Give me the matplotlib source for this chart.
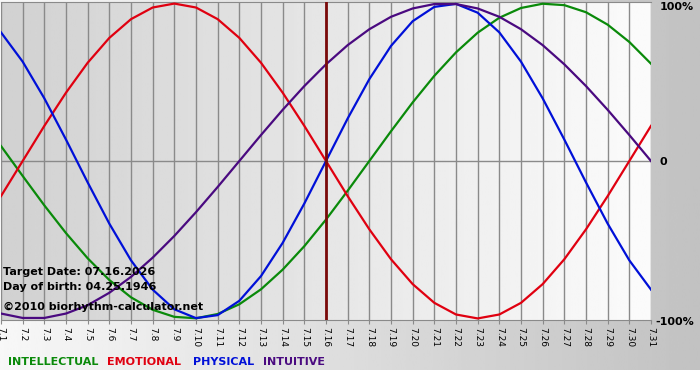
import numpy as np
import matplotlib.pyplot as plt
from matplotlib.patches import Rectangle

# days of July 2026 shown on the chart
days = list(range(1, 32))
tick_labels = [f'7.{d}' for d in days]

# biorhythm values (-1 .. 1) read per day
intellectual = [0.095, -0.095, -0.282, -0.458, -0.618, -0.756, -0.866, -0.945, -0.990, -0.999,
                -0.972, -0.910, -0.815, -0.690, -0.541, -0.372, -0.189, 0.000, 0.189, 0.372,
                0.541, 0.690, 0.815, 0.910, 0.972, 0.999, 0.990, 0.945, 0.866, 0.756, 0.618]
emotional = [-0.223, 0.000, 0.223, 0.434, 0.624, 0.782, 0.901, 0.975, 1.000, 0.975,
             0.901, 0.782, 0.624, 0.434, 0.223, 0.000, -0.223, -0.434, -0.624, -0.782,
             -0.901, -0.975, -1.000, -0.975, -0.901, -0.782, -0.624, -0.434, -0.223, 0.000, 0.223]
physical = [0.817, 0.631, 0.398, 0.136, -0.136, -0.398, -0.631, -0.817, -0.942, -0.998,
            -0.979, -0.888, -0.731, -0.520, -0.270, 0.000, 0.270, 0.520, 0.731, 0.888,
            0.979, 0.998, 0.942, 0.817, 0.631, 0.398, 0.136, -0.136, -0.398, -0.631, -0.817]
intuitive = [-0.969, -0.997, -0.997, -0.969, -0.916, -0.837, -0.736, -0.614, -0.476, -0.325,
             -0.165, 0.000, 0.165, 0.325, 0.476, 0.614, 0.736, 0.837, 0.916, 0.969,
             0.997, 0.997, 0.969, 0.916, 0.837, 0.736, 0.614, 0.476, 0.325, 0.165, 0.000]

series = [
    ('INTELLECTUAL', intellectual, '#0a8a0a'),
    ('EMOTIONAL', emotional, '#e00010'),
    ('PHYSICAL', physical, '#0010d8'),
    ('INTUITIVE', intuitive, '#4a0a80'),
]
target_day = 16

fig = plt.figure(figsize=(7, 3.8), dpi=100)

# figure background: light on the left, grey on the right
bg = fig.add_axes([0, 0, 1, 1])
bg.imshow(np.linspace(0.97, 0.76, 256).reshape(1, -1), cmap='gray', vmin=0, vmax=1,
          aspect='auto', extent=[0, 1, 0, 1])
bg.add_patch(Rectangle((0, 0), 1, 10 / 380, color='white', lw=0))
bg.set_xlim(0, 1)
bg.set_ylim(0, 1)
bg.axis('off')

ax = fig.add_axes([1 / 700, 60 / 380, 650 / 700, 318 / 380])
ax.imshow(np.linspace(0.82, 0.985, 256).reshape(1, -1), cmap='gray', vmin=0, vmax=1,
          aspect='auto', extent=[1, 31, -1.01, 1.01], zorder=0)

ax.set_xticks(days)
ax.set_xticklabels(tick_labels, rotation=-90, fontsize=6.5)
ax.set_yticks([])
ax.grid(axis='x', color='#8a8a8a', lw=1, zorder=1)
ax.axhline(0, color='#8a8a8a', lw=1, zorder=1)
ax.tick_params(axis='x', length=3, color='#8a8a8a', pad=2)

for name, vals, col in series:
    ax.plot(days, vals, color=col, lw=1.6, zorder=3)

ax.axvline(target_day, color='#7a0a0a', lw=2, zorder=4)

ax.set_xlim(1, 31)
ax.set_ylim(-1.01, 1.01)
for s in ['left', 'right']:
    ax.spines[s].set_visible(False)
for s in ['top', 'bottom']:
    ax.spines[s].set_color('#8a8a8a')

# right side scale labels
fig.text(660 / 700, 1 - 7 / 380, '100%', fontsize=8, fontweight='bold', va='center')
fig.text(660 / 700, 1 - 162 / 380, '0', fontsize=8, fontweight='bold', va='center')
fig.text(655 / 700, 1 - 322 / 380, '-100%', fontsize=8, fontweight='bold', va='center')

# info text
fig.text(3 / 700, 1 - 272 / 380, 'Target Date: 07.16.2026', fontsize=8, fontweight='bold', va='center')
fig.text(3 / 700, 1 - 287 / 380, 'Day of birth: 04.25.1946', fontsize=8, fontweight='bold', va='center')
fig.text(3 / 700, 1 - 307 / 380, '\u00a92010 biorhythm-calculator.net', fontsize=8, fontweight='bold', va='center')

# legend as coloured words
xpos = [8, 107, 193, 263]
for (name, vals, col), x in zip(series, xpos):
    fig.text(x / 700, 1 - 362 / 380, name, fontsize=8, fontweight='bold', color=col, va='center')

fig.savefig('out.png', dpi=100)
